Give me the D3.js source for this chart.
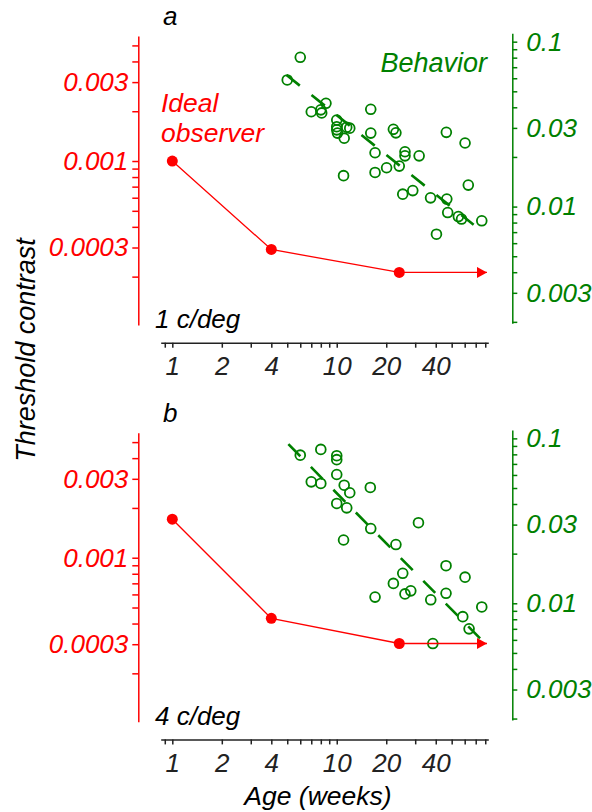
<!DOCTYPE html>
<html><head><meta charset="utf-8">
<title>Threshold contrast vs age</title>
<script src="https://cdn.jsdelivr.net/npm/d3@7"></script>
<style>
body { margin: 0; background: #fff; }
text { font-family: "Liberation Sans", Arial, Helvetica, sans-serif; font-style: italic; }
</style>
</head>
<body>
<script>

// ---- values ----
var xTicks = [0.9, 1, 2, 3, 4, 5, 6, 7, 8, 9, 10, 20, 30, 40, 50, 60, 70, 80];
var xLabels = [1, 2, 4, 10, 20, 40];

var idealTicks = [0.0002, 0.0003, 0.0004, 0.0005, 0.0006, 0.0007, 0.0008, 0.0009, 0.001, 0.002, 0.003, 0.004, 0.005];
var idealLabels = [0.0003, 0.001, 0.003];

var behTicks = [0.002, 0.003, 0.004, 0.005, 0.006, 0.007, 0.008, 0.009, 0.01, 0.02, 0.03, 0.04, 0.05, 0.06, 0.07, 0.08, 0.09, 0.1];
var behLabels = [0.003, 0.01, 0.03, 0.1];

// ideal observer (red)
var idealAge = [1, 4, 24];
var ideal1 = [0.00100, 0.000292, 0.000212];
var ideal2 = [0.00171, 0.00043, 0.000303];
var arrowAge = 82;

// behaviour (green), panel a : 1 c/deg
var behAge1 = [6.0, 5.0, 7.0, 8.0, 8.6, 8.1, 10.0, 10.0, 10.0, 10.1, 11.1, 12.0, 11.5, 16.1, 16.1, 17.1, 11.0, 17.1, 20.1,
               22.1, 22.9, 26.0, 26.0, 24.0, 31.7, 25.2, 29.0, 37.2, 46.4, 60.3, 63.1, 46.7, 47.3, 54.9, 57.4, 76.2, 40.4];
var beh1 = [0.0804, 0.0586, 0.0376, 0.0386, 0.0423, 0.0370, 0.0335, 0.0305, 0.0292, 0.0279, 0.0260, 0.0299, 0.0303, 0.0389,
            0.0279, 0.0212, 0.0154, 0.0161, 0.0172, 0.0294, 0.0280, 0.0215, 0.0203, 0.0176, 0.0203, 0.0119, 0.0125, 0.0113,
            0.0282, 0.0243, 0.0135, 0.0111, 0.0092, 0.0087, 0.0084, 0.0082, 0.0068];
var fitAge1 = [4.95, 68];
var fit1 = [0.0628, 0.00775];

// behaviour (green), panel b : 4 c/deg
var behAge2 = [6.0, 8.0, 10.0, 10.0, 7.0, 8.0, 10.0, 11.1, 12.0, 10.0, 11.5, 16.0, 11.0, 16.1, 22.9, 31.4, 46.2, 60.3, 25.2,
               22.1, 26.0, 28.2, 17.1, 37.3, 46.2, 58.4, 63.8, 76.2, 38.4];
var beh2 = [0.0791, 0.0857, 0.0785, 0.0743, 0.0545, 0.0533, 0.0604, 0.0520, 0.0468, 0.0403, 0.0379, 0.0504, 0.0242, 0.0284,
            0.0227, 0.0308, 0.0169, 0.0144, 0.0152, 0.0132, 0.0114, 0.0119, 0.0109, 0.0105, 0.0115, 0.0083, 0.0070, 0.0095, 0.0057];
var fitAge2 = [5.08, 74.4];
var fit2 = [0.0922, 0.00613];

// ---- layout ----
var width = 592, height = 812;
var red = "#ff0000", green = "#008000";

var svg = d3.select("body").append("svg").attr("width", width).attr("height", height);

var x = d3.scaleLog().domain([0.85, 83.5]).range([160.7, 488.3]);
var yIdeal = d3.scaleLog().domain([0.000102, 0.0057]).range([325, 36]);
var yBeh = d3.scaleLog().domain([0.00196, 0.1124]).range([323.3, 33.3]);

var panels = [
	{ off: 0, letter: "a", freq: "1 c/deg", ideal: ideal1, age: behAge1, beh: beh1, fitAge: fitAge1, fit: fit1 },
	{ off: 396.7, letter: "b", freq: "4 c/deg", ideal: ideal2, age: behAge2, beh: beh2, fitAge: fitAge2, fit: fit2 }
];

svg.append("defs").append("marker")
	.attr("id", "arrow")
	.attr("markerUnits", "userSpaceOnUse")
	.attr("markerWidth", 10).attr("markerHeight", 11)
	.attr("refX", 10).attr("refY", 5.5)
	.attr("orient", "auto")
	.append("path")
	.attr("d", "M0,0L10,5.5L0,11Z")
	.attr("fill", red);

function styleAxis(g, color, size) {
	g.style("color", color)
		.attr("font-size", size)
		.attr("font-family", null);
	g.selectAll("path, line").attr("stroke-width", 1.5);
}

function fmt(list) {
	return function(d) { return list.indexOf(d) >= 0 ? String(d) : ""; };
}

panels.forEach(function(p) {
	var g = svg.append("g").attr("transform", "translate(0," + p.off + ")");

	// axes
	g.append("g")
		.attr("transform", "translate(138.3,0)")
		.call(d3.axisLeft(yIdeal).tickValues(idealTicks).tickFormat(fmt(idealLabels))
			.tickSize(6).tickSizeOuter(0).tickPadding(4))
		.call(styleAxis, red, 26);

	g.append("g")
		.attr("transform", "translate(512.3,0)")
		.call(d3.axisRight(yBeh).tickValues(behTicks).tickFormat(fmt(behLabels))
			.tickSize(5).tickSizeOuter(0).tickPadding(9))
		.call(styleAxis, green, 26);

	g.append("g")
		.attr("transform", "translate(0,342.7)")
		.call(d3.axisBottom(x).tickValues(xTicks).tickFormat(fmt(xLabels))
			.tickSize(5).tickSizeOuter(0).tickPadding(9))
		.call(styleAxis, "#222", 26);

	// behaviour: regression line + points
	var fitLine = d3.line()
		.x(function(d, i) { return x(p.fitAge[i]); })
		.y(function(d) { return yBeh(d); });
	g.append("path")
		.attr("d", fitLine(p.fit))
		.attr("fill", "none")
		.attr("stroke", green)
		.attr("stroke-width", 2.6)
		.attr("stroke-dasharray", "17,15");

	g.append("g").selectAll("circle").data(p.beh).enter().append("circle")
		.attr("cx", function(d, i) { return x(p.age[i]); })
		.attr("cy", function(d) { return yBeh(d); })
		.attr("r", 4.9)
		.attr("fill", "none")
		.attr("stroke", green)
		.attr("stroke-width", 1.8);

	// ideal observer
	var ages = idealAge.concat([arrowAge]);
	var vals = p.ideal.concat([p.ideal[p.ideal.length - 1]]);
	var idealLine = d3.line()
		.x(function(d, i) { return x(ages[i]); })
		.y(function(d) { return yIdeal(d); });
	g.append("path")
		.attr("d", idealLine(vals))
		.attr("fill", "none")
		.attr("stroke", red)
		.attr("stroke-width", 1.3)
		.attr("marker-end", "url(#arrow)");

	g.append("g").selectAll("circle").data(p.ideal).enter().append("circle")
		.attr("cx", function(d, i) { return x(idealAge[i]); })
		.attr("cy", function(d) { return yIdeal(d); })
		.attr("r", 5.5)
		.attr("fill", red);

	// labels
	g.append("text").attr("x", 163).attr("y", 25).attr("font-size", 26).text(p.letter);
	g.append("text").attr("x", 155).attr("y", 328.3).attr("font-size", 26).text(p.freq);
});

var topLabels = svg.append("g");
topLabels.append("text").attr("x", 161).attr("y", 111.7).attr("font-size", 26.5).attr("fill", red).text("Ideal");
topLabels.append("text").attr("x", 161).attr("y", 141.7).attr("font-size", 26.5).attr("fill", red).text("observer");
topLabels.append("text").attr("x", 487).attr("y", 71.7).attr("font-size", 27).attr("fill", green)
	.attr("text-anchor", "end").text("Behavior");

svg.append("text")
	.attr("transform", "translate(35,350) rotate(-90)")
	.attr("text-anchor", "middle")
	.attr("font-size", 27)
	.text("Threshold contrast");

svg.append("text")
	.attr("x", 318).attr("y", 805)
	.attr("text-anchor", "middle")
	.attr("font-size", 26.5)
	.text("Age (weeks)");

</script>
</body></html>
